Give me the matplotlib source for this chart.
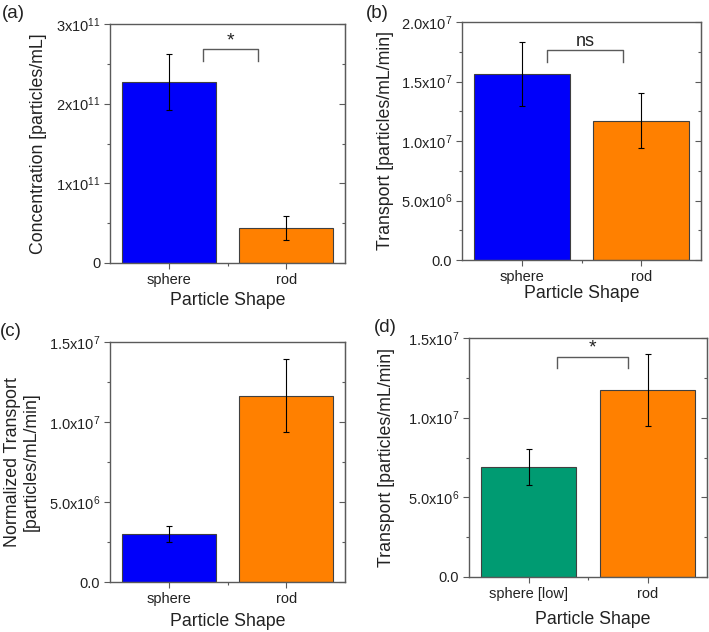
import matplotlib
matplotlib.use('Agg')
import matplotlib.pyplot as plt
from matplotlib.ticker import FixedLocator, MultipleLocator, NullFormatter

plt.rcParams['font.family'] = ['Liberation Sans', 'DejaVu Sans']
plt.rcParams['mathtext.fontset'] = 'custom'
plt.rcParams['mathtext.rm'] = 'Liberation Sans'
plt.rcParams['mathtext.it'] = 'Liberation Sans:italic'
plt.rcParams['mathtext.default'] = 'regular'

# data
shapes = ['sphere', 'rod']
shapes_d = ['sphere [low]', 'rod']

conc_vals = [2.27e11, 0.44e11]
conc_err = [0.35e11, 0.15e11]

transport_vals = [1.56e7, 1.17e7]
transport_err = [0.27e7, 0.23e7]

norm_vals = [0.30e7, 1.165e7]
norm_err = [0.053e7, 0.23e7]

low_vals = [0.69e7, 1.175e7]
low_err = [0.115e7, 0.225e7]

BLUE = '#0000FA'
ORANGE = '#FF8000'
GREEN = '#009B72'
GRAY = '#5a5a5a'

fig = plt.figure(figsize=(7.09, 6.32), dpi=100)


def make_panel(rect, labels, vals, errs, colors, ylim, yticks, yticklabels, minor,
               ylabel, ylabel_x, xlabel_y, xlabel_x, tag, tag_xy):
    ax = fig.add_axes(rect)
    x = [1, 2]
    ax.bar(x, vals, width=0.8, color=colors, edgecolor='#404040', linewidth=0.8, zorder=2)
    ax.errorbar(x, vals, yerr=errs, fmt='none', ecolor='black', elinewidth=0.8,
                capsize=2.2, capthick=0.8, zorder=3)
    ax.set_xlim(0.5, 2.5)
    ax.set_ylim(*ylim)
    ax.set_xticks(x)
    ax.set_xticklabels(labels, fontsize=10.5)
    ax.xaxis.set_minor_locator(FixedLocator([1.5]))
    ax.set_yticks(yticks)
    ax.set_yticklabels(yticklabels, fontsize=10.5)
    ax.yaxis.set_minor_locator(MultipleLocator(minor))
    for s in ax.spines.values():
        s.set_color(GRAY)
        s.set_linewidth(1.0)
    ax.tick_params(axis='both', which='both', direction='out', color=GRAY, width=0.8,
                   labelcolor='#222222')
    ax.tick_params(axis='both', which='major', length=4, pad=3)
    ax.tick_params(axis='both', which='minor', length=2.5)

    # inward ticks on the right frame
    sec = ax.secondary_yaxis('right')
    sec.set_yticks(yticks)
    sec.yaxis.set_minor_locator(MultipleLocator(minor))
    sec.yaxis.set_major_formatter(NullFormatter())
    sec.spines['right'].set_color(GRAY)
    sec.tick_params(which='both', direction='in', color=GRAY, width=0.8)
    sec.tick_params(which='major', length=4)
    sec.tick_params(which='minor', length=2.5)

    ax.text(ylabel_x, 0.5, ylabel, transform=ax.transAxes, rotation=90,
            ha='center', va='center', fontsize=12.8, color='#222222', linespacing=1.15)
    ax.text(xlabel_x, xlabel_y, 'Particle Shape', transform=ax.transAxes,
            ha='center', va='center', fontsize=12.8, color='#222222')
    fig.text(tag_xy[0], tag_xy[1], tag, fontsize=13.5, ha='left', va='center', color='#222222')
    return ax


def bracket(ax, x0, x1, y_top, y_leg, text, fs):
    ax.plot([x0, x0, x1, x1], [y_leg, y_top, y_top, y_leg], color=GRAY, linewidth=1.0, zorder=3)
    ax.text((x0 + x1) / 2, y_top, text, ha='center', va='bottom', fontsize=fs, color='#222222')


# (a)
ax_a = make_panel([110 / 709, 1 - 263 / 632, 235 / 709, 239 / 632], shapes,
                  conc_vals, conc_err, [BLUE, ORANGE], (0, 3e11),
                  [0, 1e11, 2e11, 3e11], ['0', '1x10$^{11}$', '2x10$^{11}$', '3x10$^{11}$'],
                  0.5e11, 'Concentration [particles/mL]', -0.305, -0.155, 0.5,
                  '(a)', (2 / 709, 1 - 14 / 632))
bracket(ax_a, 1.29, 1.76, 2.68e11, 2.54e11, '*', 14)

# (b)
ax_b = make_panel([462 / 709, 1 - 260 / 632, 239 / 709, 238 / 632], shapes,
                  transport_vals, transport_err, [BLUE, ORANGE], (0, 2.0e7),
                  [0, 0.5e7, 1.0e7, 1.5e7, 2.0e7],
                  ['0.0', '5.0x10$^{6}$', '1.0x10$^{7}$', '1.5x10$^{7}$', '2.0x10$^{7}$'],
                  0.25e7, 'Transport [particles/mL/min]', -0.318, -0.139, 0.5,
                  '(b)', (366 / 709, 1 - 14 / 632))
bracket(ax_b, 1.21, 1.85, 1.765e7, 1.668e7, 'ns', 13)

# (c)
ax_c = make_panel([110 / 709, 1 - 582 / 632, 235 / 709, 240 / 632], shapes,
                  norm_vals, norm_err, [BLUE, ORANGE], (0, 1.5e7),
                  [0, 0.5e7, 1.0e7, 1.5e7],
                  ['0.0', '5.0x10$^{6}$', '1.0x10$^{7}$', '1.5x10$^{7}$'],
                  0.25e7, 'Normalized Transport\n[particles/mL/min]', -0.375, -0.1625, 0.5,
                  '(c)', (0 / 709, 1 - 331 / 632))

# (d)
ax_d = make_panel([469 / 709, 1 - 577 / 632, 238 / 709, 239 / 632], shapes_d,
                  low_vals, low_err, [GREEN, ORANGE], (0, 1.5e7),
                  [0, 0.5e7, 1.0e7, 1.5e7],
                  ['0.0', '5.0x10$^{6}$', '1.0x10$^{7}$', '1.5x10$^{7}$'],
                  0.25e7, 'Transport [particles/mL/min]', -0.345, -0.176, 0.52,
                  '(d)', (374 / 709, 1 - 327 / 632))
bracket(ax_d, 1.24, 1.84, 1.381e7, 1.312e7, '*', 14)

fig.savefig('out.png', dpi=100)
plt.close(fig)
